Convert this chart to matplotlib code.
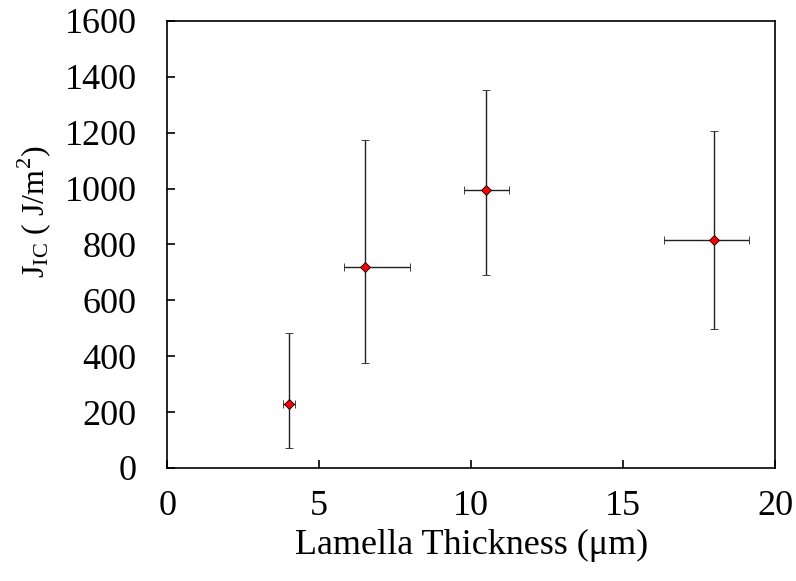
import numpy as np
import matplotlib.pyplot as plt

# --- Data ---
thickness = [4.0, 6.5, 10.5, 18.0]
x_err_lo = [0.2, 0.7, 0.75, 1.65]
x_err_hi = [0.2, 1.5, 0.75, 1.15]
jic = [230, 720, 994, 815]
y_err_lo = [158, 343, 304, 318]
y_err_hi = [252, 455, 358, 391]

plt.rcParams['font.family'] = ['Liberation Serif', 'DejaVu Serif']
plt.rcParams['mathtext.fontset'] = 'custom'
plt.rcParams['mathtext.rm'] = 'Liberation Serif'

fig = plt.figure(figsize=(7.96, 5.81), dpi=100)
ax = fig.add_axes([0.21, 0.1945, 0.764, 0.7695])

ax.errorbar(thickness, jic,
            xerr=[x_err_lo, x_err_hi], yerr=[y_err_lo, y_err_hi],
            fmt='D', color='black', ecolor='#222222', elinewidth=1.0,
            capsize=3, capthick=1.0, markersize=5,
            markerfacecolor='red', markeredgecolor='black', markeredgewidth=0.6)

ax.set_xlim(0, 20)
ax.set_ylim(0, 1600)
ax.set_xticks([0, 5, 10, 15, 20])
ax.set_yticks(np.arange(0, 1601, 200))
ax.tick_params(direction='in', labelsize=26, length=6, width=1.2)
ax.tick_params(axis='y', pad=22)
ax.tick_params(axis='x', pad=16)
for s in ax.spines.values():
    s.set_linewidth(1.2)

ax.set_xlabel('Lamella Thickness (\u03bcm)', fontsize=26, labelpad=4)
ax.set_ylabel(r'$\mathrm{J_{IC}}$ ( J/m$^{\mathrm{2}}$)', fontsize=23, va='center')
ax.yaxis.set_label_coords(-0.219, 0.573)

plt.savefig('out.png', dpi=100)
